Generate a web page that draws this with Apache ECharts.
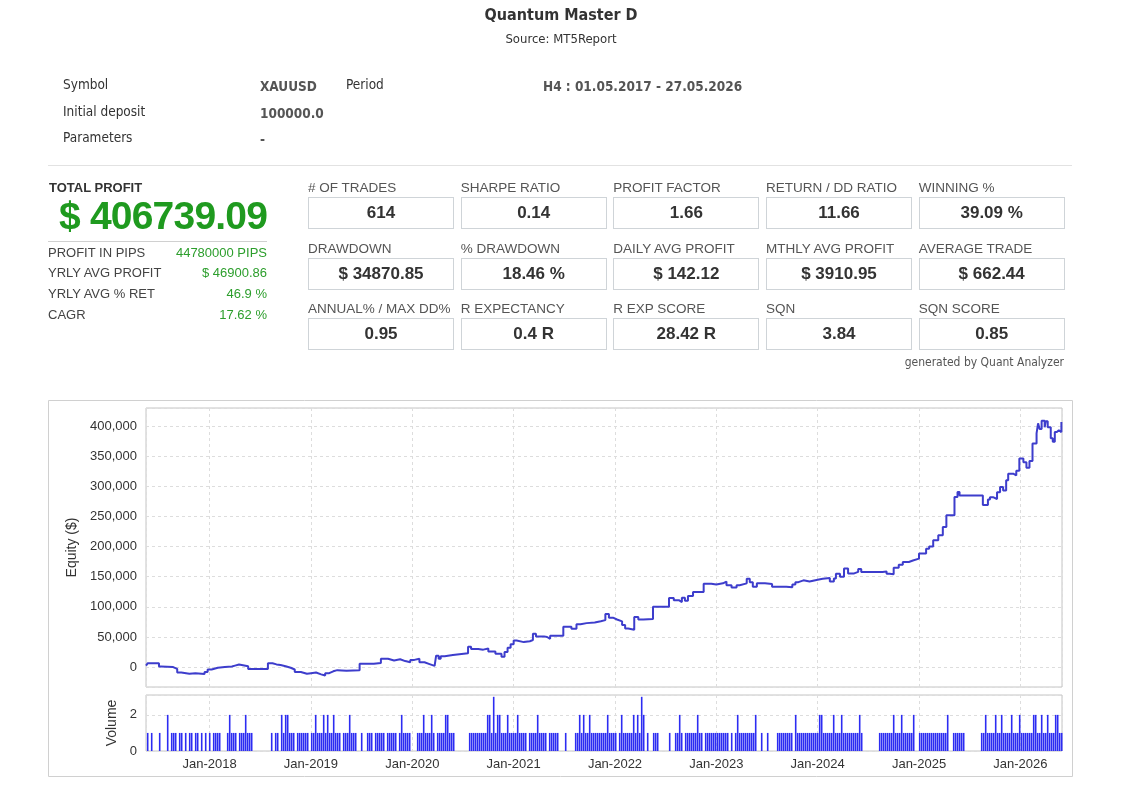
<!DOCTYPE html>
<html>
<head>
<meta charset="utf-8">
<script src="https://cdn.jsdelivr.net/npm/echarts@6/dist/echarts.min.js"></script>
<style>
html,body{margin:0;padding:0;background:#fff;width:1133px;height:793px;overflow:hidden}
#chart{position:absolute;left:0;top:0;width:1133px;height:793px}
.t{position:absolute;white-space:nowrap;line-height:20px;height:20px}
.hd{font-family:"DejaVu Sans Condensed","Liberation Sans Narrow","Liberation Sans",sans-serif;font-size:13px;color:#333}
.hb{font-weight:bold;color:#555}
.ar{font-family:"Liberation Sans",Arial,sans-serif}
.box{position:absolute;box-sizing:border-box;border:1px solid #cfd4d8;background:#fff;text-align:center;font-family:"Liberation Sans",Arial,sans-serif;font-weight:bold;font-size:17px;color:#333}
.bl{font-family:"Liberation Sans",Arial,sans-serif;font-size:13.5px;color:#555}
</style>
</head>
<body>
<div id="chart"></div>
<div id="overlay"></div>
<script>
// ---------------- data ----------------
const reportTitle = 'Quantum Master D';
const reportSource = 'Source: MT5Report';
const headerRows = [
  ['Symbol', 'XAUUSD', 'Period', 'H4 : 01.05.2017 - 27.05.2026'],
  ['Initial deposit', '100000.0', '', ''],
  ['Parameters', '-', '', '']
];
const totalProfit = '$ 406739.09';
const leftStatLabels = ['PROFIT IN PIPS', 'YRLY AVG PROFIT', 'YRLY AVG % RET', 'CAGR'];
const leftStatValues = ['44780000 PIPS', '$ 46900.86', '46.9 %', '17.62 %'];
const boxLabels = [
  ['# OF TRADES', 'SHARPE RATIO', 'PROFIT FACTOR', 'RETURN / DD RATIO', 'WINNING %'],
  ['DRAWDOWN', '% DRAWDOWN', 'DAILY AVG PROFIT', 'MTHLY AVG PROFIT', 'AVERAGE TRADE'],
  ['ANNUAL% / MAX DD%', 'R EXPECTANCY', 'R EXP SCORE', 'SQN', 'SQN SCORE']
];
const boxValues = [
  ['614', '0.14', '1.66', '11.66', '39.09 %'],
  ['$ 34870.85', '18.46 %', '$ 142.12', '$ 3910.95', '$ 662.44'],
  ['0.95', '0.4 R', '28.42 R', '3.84', '0.85']
];
const footerNote = 'generated by Quant Analyzer';

// equity curve: time in decimal years, equity in $
const equityYears = [
  2017.372, 2017.39, 2017.50, 2017.52, 2017.64, 2017.68, 2017.72, 2017.80, 2017.86, 2017.95,
  2017.98, 2018.02, 2018.08, 2018.15, 2018.22, 2018.25, 2018.29, 2018.38, 2018.575, 2018.62,
  2018.66, 2018.70, 2018.75, 2018.80, 2018.84, 2018.90, 2018.96, 2019.00, 2019.05, 2019.10,
  2019.14, 2019.18, 2019.22, 2019.26, 2019.35, 2019.48, 2019.62, 2019.69, 2019.76, 2019.82,
  2019.88, 2019.93, 2019.98, 2020.02, 2020.07, 2020.12, 2020.17, 2020.22, 2020.235, 2020.26,
  2020.28, 2020.32, 2020.40, 2020.55, 2020.58, 2020.65, 2020.70, 2020.75, 2020.82, 2020.88,
  2020.91, 2020.94, 2020.97, 2021.00, 2021.03, 2021.10, 2021.16, 2021.19, 2021.22, 2021.30,
  2021.33, 2021.36, 2021.49, 2021.57, 2021.62, 2021.66, 2021.72, 2021.80, 2021.86, 2021.905,
  2021.94, 2021.98, 2022.02, 2022.07, 2022.10, 2022.13, 2022.19, 2022.23, 2022.28, 2022.375,
  2022.533, 2022.58, 2022.63, 2022.66, 2022.69, 2022.72, 2022.77, 2022.875, 2022.95, 2023.00,
  2023.065, 2023.10, 2023.15, 2023.20, 2023.23, 2023.30, 2023.33, 2023.36, 2023.40, 2023.48,
  2023.55, 2023.69, 2023.75, 2023.78, 2023.81, 2023.86, 2023.92, 2024.00, 2024.05, 2024.12,
  2024.16, 2024.18, 2024.22, 2024.26, 2024.30, 2024.36, 2024.40, 2024.43, 2024.64, 2024.68,
  2024.71, 2024.75, 2024.80, 2024.84, 2024.90, 2024.94, 2025.00, 2025.07, 2025.10, 2025.14,
  2025.19, 2025.235, 2025.27, 2025.32, 2025.35, 2025.38, 2025.40, 2025.61, 2025.63, 2025.68,
  2025.70, 2025.73, 2025.77, 2025.80, 2025.83, 2025.86, 2025.88, 2025.93, 2025.96, 2025.99,
  2026.03, 2026.06, 2026.09, 2026.12, 2026.16, 2026.175, 2026.19, 2026.21, 2026.24, 2026.25,
  2026.27, 2026.30, 2026.32, 2026.34, 2026.36, 2026.38, 2026.405
];
const equityValues = [
  2500, 6500, 1000, 0, -3000, -9000, -11000, -10000, -11500, -8000,
  -4000, -1000, 0, 1000, 2500, 4400, 1500, -3000, 6500, 4500,
  3500, 1500, -1000, -4000, -8000, -11000, -10000, -9000, -12000, -14000,
  -10000, -7000, -5000, -6000, -5000, 5500, 7000, 14000, 11000, 13000,
  10000, 8000, 12000, 14000, 8000, 5000, 2000, 3000, 19000, 14000,
  18000, 20000, 23000, 34000, 30000, 29000, 31000, 26000, 22000, 17000,
  25000, 32000, 38000, 44000, 41500, 43000, 45000, 55500, 51000, 50000,
  47000, 52000, 67000, 63500, 71000, 73000, 74000, 76000, 78000, 88000,
  82000, 79000, 76000, 70000, 64000, 62000, 83000, 79000, 80000, 100000,
  114500, 111000, 108000, 115000, 110000, 118000, 124500, 138500, 137000, 139000,
  142000, 136000, 132000, 136000, 139000, 146500, 141000, 133500, 139000, 138000,
  133500, 132500, 137000, 141000, 144000, 142000, 145000, 146500, 148000, 142000,
  147000, 155000, 150000, 163500, 155500, 158000, 163000, 158000, 158500, 155000,
  154000, 165000, 170000, 174500, 177000, 180000, 188500, 196500, 200000, 210500,
  219000, 232500, 252000, 252000, 282500, 290800, 285000, 285000, 269000, 278000,
  282000, 279000, 290000, 299000, 293000, 310000, 321000, 318000, 326000, 346000,
  340000, 331000, 342000, 371000, 388000, 404500, 395000, 409000, 398000, 408000,
  398000, 380000, 374000, 390000, 393000, 390000, 406739
];

// volume: one digit per week-sized slot, starting at volumeStartYear
const volumeStartYear = 2017.372;
const volumeEndYear = 2026.411;
const volumeSlots = [
  '1010001000', '2011101101', '0110110101', '0101111000', '1211101112',
  '1110000000', '0010110212', '2111011111', '1011211121', '2112111011',
  '1211100100', '1110111110', '1111101211', '1100011121', '1121011112',
  '2111000000', '0111111111', '2213122111', '2111121111', '0111121111',
  '0111110001', '0000112121', '1211111111', '2111101211', '1112121320',
  '1001110000', '0100112101', '1111121101', '1111111111', '1010121111',
  '1111200100', '1000011111', '1110211111', '1111112211', '1112111211',
  '1111112100', '0000001111', '1112111211', '1112001111', '1111111111',
  '2001111110', '0000000112', '1111211211', '1121112111', '1112211211',
  '21112211'
];
const xTickLabels = {2018:'Jan-2018',2019:'Jan-2019',2020:'Jan-2020',2021:'Jan-2021',2022:'Jan-2022',2023:'Jan-2023',2024:'Jan-2024',2025:'Jan-2025',2026:'Jan-2026'};
const equityRange = [-33000, 430000];
const volumeRange = [0, 3.1];

// ---------------- HTML report part ----------------
const ov = document.getElementById('overlay');
function put(html, cls, left, cy, extra) {
  const d = document.createElement('div');
  d.className = 't ' + cls;
  d.style.left = left + 'px';
  d.style.top = (cy - 10) + 'px';
  if (extra) Object.assign(d.style, extra);
  d.textContent = html;
  ov.appendChild(d);
  return d;
}
put(reportTitle, 'hd', 0, 15, {width:'1122px', textAlign:'center', fontWeight:'bold', fontSize:'16px', color:'#333'});
put(reportSource, 'hd', 0, 39, {width:'1122px', textAlign:'center', fontSize:'13px', color:'#333'});
const hdY = [[84, 86], [111, 113], [137, 139]];
headerRows.forEach((r, i) => {
  put(r[0], 'hd', 63, hdY[i][0], {fontSize:'13.5px'});
  put(r[1], 'hd hb', 260, hdY[i][1], {fontSize:'13.5px'});
  if (r[2]) put(r[2], 'hd', 346, hdY[i][0], {fontSize:'13.5px'});
  if (r[3]) put(r[3], 'hd hb', 543, hdY[i][1], {fontSize:'13.5px'});
});
const sep = document.createElement('div');
Object.assign(sep.style, {position:'absolute', left:'48px', top:'165px', width:'1024px', height:'1px', background:'#e2e2e2'});
ov.appendChild(sep);

put('TOTAL PROFIT', 'ar', 49, 188, {fontWeight:'bold', fontSize:'13px', color:'#333'});
put(totalProfit, 'ar', 59, 216, {fontWeight:'bold', fontSize:'39px', letterSpacing:'-0.8px', color:'#1f9a1f', lineHeight:'44px', height:'44px', top:'194px'});
const ln = document.createElement('div');
Object.assign(ln.style, {position:'absolute', left:'48px', top:'241px', width:'219px', height:'1px', background:'#d0d0d0'});
ov.appendChild(ln);
const lsY = [253, 273, 294, 315];
leftStatLabels.forEach((l, i) => {
  put(l, 'ar', 48, lsY[i], {fontSize:'13px', color:'#444'});
  put(leftStatValues[i], 'ar', 107, lsY[i], {fontSize:'13px', color:'#2c9e2c', width:'160px', textAlign:'right'});
});
const colX = [308, 460.7, 613.3, 766, 918.7];
const rowLabelY = [187.5, 248.5, 309];
const rowBoxY = [196.5, 257.5, 317.5];
boxLabels.forEach((row, r) => {
  row.forEach((lab, c) => {
    put(lab, 'bl', colX[c], rowLabelY[r]);
    const b = document.createElement('div');
    b.className = 'box';
    Object.assign(b.style, {left: colX[c] + 'px', top: rowBoxY[r] + 'px', width:'146px', height:'32px', lineHeight:'29px'});
    b.textContent = boxValues[r][c];
    ov.appendChild(b);
  });
});
put(footerNote, 'hd', 800, 362, {width:'264px', textAlign:'right', fontSize:'12px', color:'#555'});

// ---------------- ECharts part ----------------
const equityData = equityYears.map((x, i) => [x, equityValues[i]]);
const volumeDigits = volumeSlots.join('');
const slotW = (volumeEndYear - volumeStartYear) / volumeDigits.length;
const volumeData = [];
for (let i = 0; i < volumeDigits.length; i++) {
  const v = +volumeDigits[i];
  if (v > 0) volumeData.push([volumeStartYear + (i + 0.85) * slotW, v]);
}

const chart = echarts.init(document.getElementById('chart'), null, {renderer: 'canvas'});
const tickFont = {fontFamily: '"Liberation Sans", Arial, sans-serif', fontSize: 13, color: '#333'};
const dash = {type: [3, 3], color: '#dddddd', width: 1};
function xLabel(v) {
  const r = Math.round(v);
  return Math.abs(v - r) < 1e-6 && xTickLabels[r] ? xTickLabels[r] : '';
}
chart.setOption({
  animation: false,
  backgroundColor: '#fff',
  graphic: [{
    type: 'rect', z: -10, silent: true,
    shape: {x: 48.5, y: 400.5, width: 1024, height: 376},
    style: {fill: '#fff', stroke: '#d0d0d0', lineWidth: 1}
  }],
  grid: [
    {left: 146, top: 408, width: 916, height: 279, show: true, borderColor: '#c4c4c4', borderWidth: 1, backgroundColor: '#fff'},
    {left: 146, top: 695, width: 916, height: 56, show: true, borderColor: '#c4c4c4', borderWidth: 1, backgroundColor: '#fff'}
  ],
  xAxis: [
    {type: 'value', gridIndex: 0, min: volumeStartYear, max: volumeEndYear, splitNumber: 9,
      axisLine: {show: false}, axisTick: {show: false}, axisLabel: {show: false},
      splitLine: {show: true, lineStyle: dash}},
    {type: 'value', gridIndex: 1, min: volumeStartYear, max: volumeEndYear, splitNumber: 9,
      axisLine: {show: false}, axisTick: {show: false},
      axisLabel: Object.assign({formatter: xLabel, margin: 7}, tickFont),
      splitLine: {show: true, lineStyle: dash}}
  ],
  yAxis: [
    {type: 'value', gridIndex: 0, min: equityRange[0], max: equityRange[1], splitNumber: 9,
      name: 'Equity ($)', nameLocation: 'middle', nameGap: 54,
      nameTextStyle: {fontFamily: '"Liberation Sans", Arial, sans-serif', fontSize: 14, color: '#333'},
      axisLine: {show: false}, axisTick: {show: false},
      axisLabel: Object.assign({margin: 9, formatter: v => (v % 50000 === 0 ? v.toLocaleString('en-US') : '')}, tickFont),
      splitLine: {show: true, lineStyle: dash}},
    {type: 'value', gridIndex: 1, min: volumeRange[0], max: volumeRange[1], interval: 2,
      name: 'Volume', nameLocation: 'middle', nameGap: 14,
      nameTextStyle: {fontFamily: '"Liberation Sans", Arial, sans-serif', fontSize: 14, color: '#333'},
      axisLine: {show: false}, axisTick: {show: false},
      axisLabel: Object.assign({margin: 9, formatter: v => (v % 2 === 0 ? String(v) : '')}, tickFont),
      splitLine: {show: true, lineStyle: dash}}
  ],
  series: [
    {type: 'line', xAxisIndex: 0, yAxisIndex: 0, data: equityData, step: 'end',
      showSymbol: false, lineStyle: {color: '#3d3dcc', width: 2}, silent: true},
    {type: 'bar', xAxisIndex: 1, yAxisIndex: 1, data: volumeData, barWidth: 1.6,
      itemStyle: {color: '#2c2cf2'}, silent: true}
  ]
});
</script>
</body>
</html>
